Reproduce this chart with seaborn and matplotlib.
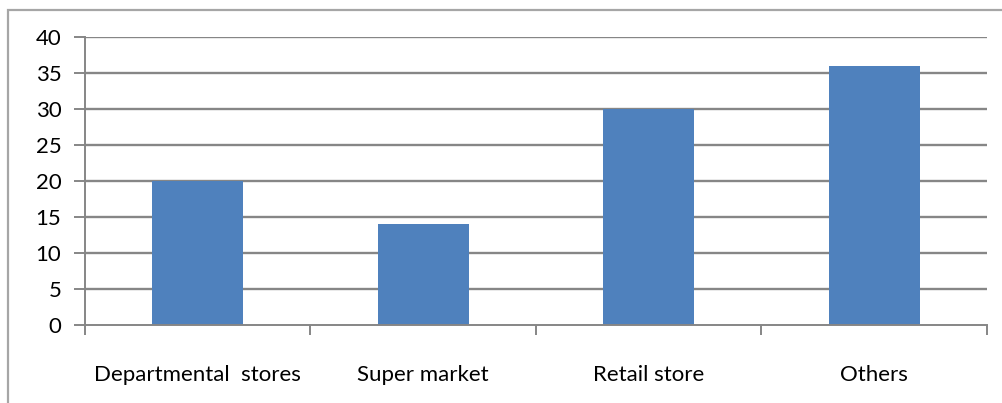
import matplotlib
matplotlib.use("Agg")
import matplotlib.pyplot as plt
from matplotlib.patches import Rectangle
import seaborn as sns
import pandas as pd

categories = ["Departmental  stores", "Super market", "Retail store", "Others"]
values = [20, 14, 30, 36]
y_ticks = [0, 5, 10, 15, 20, 25, 30, 35, 40]

sns.set_theme(style="white")
plt.rcParams["font.family"] = ["Lato", "DejaVu Sans"]

df = pd.DataFrame({"category": categories, "value": values})

fig = plt.figure(figsize=(10.03, 4.03), dpi=100)
ax = fig.add_axes([85 / 1003, 78 / 403, 902 / 1003, 288 / 403])

sns.barplot(data=df, x="category", y="value", order=categories,
            color="#4F81BD", saturation=1, width=0.405, linewidth=0,
            edgecolor="none", ax=ax, zorder=3)

grid_color = "#868686"
label_size = 16
ax.set_ylim(0, 40)
ax.set_xlim(-0.5, len(categories) - 0.5)
ax.set_yticks(y_ticks)
ax.set_yticklabels([str(v) for v in y_ticks], fontsize=label_size, color="black")
for v in y_ticks[1:]:
    ax.axhline(v, color=grid_color, lw=1.7, zorder=1)

# category boundaries carry the tick marks, labels sit under the centres
ax.set_xticks(range(len(categories)))
ax.set_xticklabels(categories, fontsize=label_size, color="black")
ax.tick_params(axis="x", which="major", length=0, pad=29)
ax.set_xticks([i - 0.5 for i in range(len(categories) + 1)], minor=True)
ax.tick_params(axis="x", which="minor", length=7, width=1.4, color=grid_color,
               direction="out", bottom=True)
ax.tick_params(axis="y", length=8, width=1.4, color=grid_color,
               direction="out", left=True, pad=9)

ax.set_xlabel("")
ax.set_ylabel("")
for side in ("top", "right"):
    ax.spines[side].set_visible(False)
for side in ("left", "bottom"):
    ax.spines[side].set_color(grid_color)
    ax.spines[side].set_linewidth(1.4)
    ax.spines[side].set_zorder(4)

# outer chart frame
fig.patches.append(Rectangle((8 / 1003, -0.1), 1.2, (403 - 10) / 403 + 0.1,
                             transform=fig.transFigure, fill=False,
                             edgecolor="#A6A6A6", lw=1.6))

fig.savefig("out.png", dpi=100)
